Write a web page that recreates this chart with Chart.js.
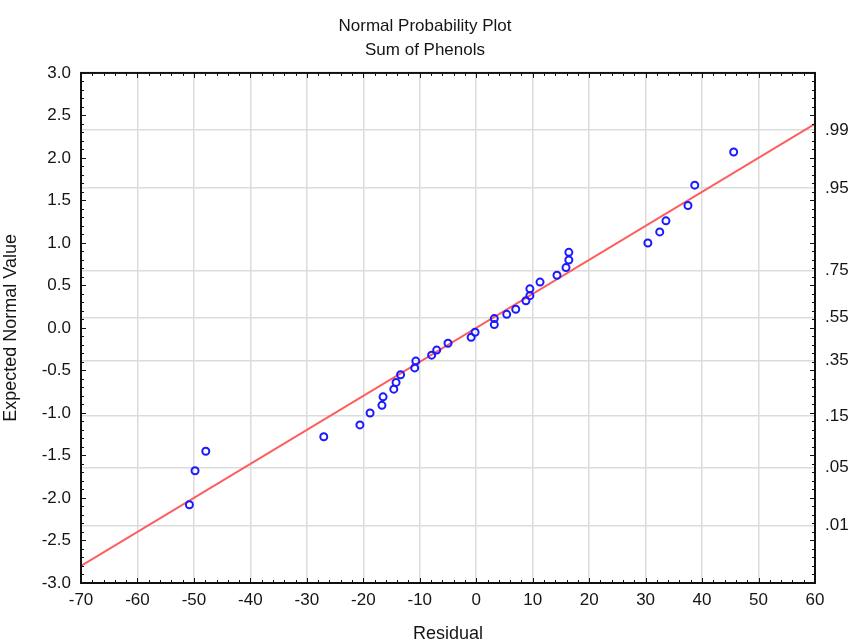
<!DOCTYPE html>
<html>
<head>
<meta charset="utf-8">
<script src="https://cdn.jsdelivr.net/npm/chart.js@4.4.1/dist/chart.umd.min.js"></script>
<style>
    html, body { margin: 0; padding: 0; background: #fff; }
    #wrap { width: 850px; height: 642px; }
</style>
</head>
<body>
<div id="wrap"><canvas id="chart" width="850" height="642"></canvas></div>
<script>
// Residuals (x) and their expected normal values (y)
const residuals = [
    -50.8, -49.8, -47.9, -27.0, -20.6, -18.8, -16.7, -16.5, -14.6, -14.2,
    -13.4, -10.9, -10.7, -7.9, -7.0, -5.0, -0.9, -0.2, 3.2, 3.2,
    5.4, 7.0, 8.8, 9.5, 9.5, 11.3, 14.3, 15.9, 16.4, 16.4,
    30.4, 32.5, 33.6, 37.5, 38.7, 45.6
];
const expectedNormal = [
    -2.08, -1.68, -1.45, -1.28, -1.14, -1.00, -0.91, -0.81, -0.72, -0.64,
    -0.55, -0.47, -0.39, -0.32, -0.26, -0.18, -0.11, -0.05, 0.04, 0.11,
    0.16, 0.22, 0.32, 0.38, 0.46, 0.54, 0.62, 0.71, 0.80, 0.89,
    1.00, 1.13, 1.26, 1.44, 1.68, 2.07
];

// Fitted reference line (end points at the x-axis limits)
const fitX = [-70, 60];
const fitY = [-2.80, 2.40];

// Right-hand probability axis: labels and their z positions
const probLabels = ['.01', '.05', '.15', '.35', '.55', '.75', '.95', '.99'];
const probZ = [-2.326, -1.645, -1.036, -0.385, 0.126, 0.674, 1.645, 2.326];

const FONT = '"Liberation Sans Narrow", "Arial Narrow", "Liberation Sans", Arial, sans-serif';
const TEXT = '#151515';
const GRID = '#dcdcdc';

// Frame + small inward ticks round the plot area
const frameTicks = {
    id: 'frameTicks',
    afterDraw(chart) {
        const { ctx, chartArea: a, scales } = chart;
        const x = scales.x, y = scales.y;
        ctx.save();
        ctx.strokeStyle = '#111';
        ctx.lineWidth = 1;
        ctx.beginPath();
        for (let v = -70; v <= 60.001; v += 2) {
            const px = Math.round(x.getPixelForValue(v)) + 0.5;
            const len = Math.abs(v % 10) < 0.01 ? 5 : 3;
            ctx.moveTo(px, a.bottom); ctx.lineTo(px, a.bottom - len);
            ctx.moveTo(px, a.top); ctx.lineTo(px, a.top + len);
        }
        for (let v = -3; v <= 3.0001; v += 0.1) {
            const py = Math.round(y.getPixelForValue(v)) + 0.5;
            const len = Math.abs(Math.round(v * 10) % 5) === 0 ? 5 : 3;
            ctx.moveTo(a.left, py); ctx.lineTo(a.left + len, py);
            ctx.moveTo(a.right, py); ctx.lineTo(a.right - len, py);
        }
        ctx.stroke();
        ctx.lineWidth = 2;
        ctx.strokeRect(a.left, a.top, a.right - a.left, a.bottom - a.top);
        ctx.restore();
    }
};

new Chart(document.getElementById('chart'), {
    data: {
        datasets: [
            {
                type: 'scatter',
                data: residuals.map((r, i) => ({ x: r, y: expectedNormal[i] })),
                pointStyle: 'circle',
                pointRadius: 3.5,
                borderColor: '#1a1aff',
                backgroundColor: 'rgba(255,255,255,0)',
                borderWidth: 2,
                order: 1
            },
            {
                type: 'line',
                data: fitX.map((v, i) => ({ x: v, y: fitY[i] })),
                borderColor: '#ff5c5c',
                borderWidth: 2,
                pointRadius: 0,
                fill: false,
                order: 2
            }
        ]
    },
    options: {
        responsive: false,
        animation: false,
        layout: { padding: 0 },
        plugins: {
            legend: { display: false },
            tooltip: { enabled: false },
            title: {
                display: true,
                text: ['Normal Probability Plot', 'Sum of Phenols'],
                color: TEXT,
                font: { family: FONT, size: 17, weight: 'normal', lineHeight: 1.41 },
                padding: { top: 14, bottom: 11 }
            }
        },
        scales: {
            x: {
                type: 'linear',
                min: -70,
                max: 60,
                ticks: {
                    stepSize: 10,
                    color: TEXT,
                    font: { family: FONT, size: 17 },
                    padding: 7,
                    maxRotation: 0
                },
                grid: { color: GRID, lineWidth: 1.5, drawTicks: false },
                border: { display: false },
                title: {
                    display: true,
                    text: 'Residual',
                    color: TEXT,
                    font: { family: FONT, size: 18 },
                    padding: { top: 4, bottom: -3 }
                },
                afterFit(s) { s.height = 59; }
            },
            y: {
                type: 'linear',
                position: 'left',
                min: -3,
                max: 3,
                ticks: {
                    stepSize: 0.5,
                    color: TEXT,
                    font: { family: FONT, size: 17 },
                    padding: 10,
                    callback: v => v.toFixed(1)
                },
                grid: { display: false, drawTicks: false },
                border: { display: false },
                title: {
                    display: true,
                    text: 'Expected Normal Value',
                    color: TEXT,
                    font: { family: FONT, size: 18 },
                    padding: { top: 0, bottom: 4 }
                },
                afterFit(s) { s.width = 81; }
            },
            y2: {
                type: 'linear',
                position: 'right',
                min: -3,
                max: 3,
                afterBuildTicks(s) {
                    s.ticks = probZ.map(z => ({ value: z }));
                },
                ticks: {
                    color: TEXT,
                    font: { family: FONT, size: 17 },
                    padding: 10,
                    callback: (v, i) => probLabels[i]
                },
                grid: { color: GRID, lineWidth: 1.5, drawTicks: false },
                border: { display: false },
                afterFit(s) { s.width = 35; }
            }
        }
    },
    plugins: [frameTicks, {
        id: 'whiteBg',
        beforeDraw(chart) {
            const c = chart.ctx;
            c.save();
            c.fillStyle = '#fff';
            c.fillRect(0, 0, chart.width, chart.height);
            c.restore();
        }
    }]
});
</script>
</body>
</html>
